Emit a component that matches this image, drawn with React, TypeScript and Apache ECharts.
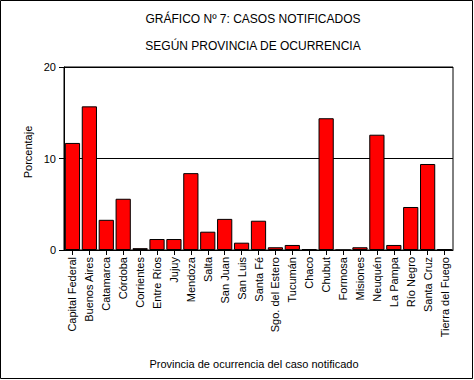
import React, { useEffect, useRef } from "react";
import * as echarts from "echarts";

const categories = [
  "Capital Federal", "Buenos Aires", "Catamarca", "Córdoba", "Corrientes",
  "Entre Ríos", "Jujuy", "Mendoza", "Salta", "San Juan", "San Luis", "Santa Fé",
  "Sgo. del Estero", "Tucumán", "Chaco", "Chubut", "Formosa", "Misiones",
  "Neuquén", "La Pampa", "Río Negro", "Santa Cruz", "Tierra del Fuego",
];
const porcentaje = [
  11.7, 15.7, 3.3, 5.6, 0.2, 1.2, 1.2, 8.4, 2.0, 3.4, 0.8, 3.2,
  0.3, 0.55, 0.1, 14.4, 0, 0.3, 12.6, 0.55, 4.7, 9.4, 0.1,
];
const titleLines = ["GRÁFICO Nº 7: CASOS NOTIFICADOS", "SEGÚN PROVINCIA DE OCURRENCIA"];
const yAxisName = "Porcentaje";
const xAxisName = "Provincia de ocurrencia del caso notificado";

const FONT = "Arial, 'Liberation Sans', sans-serif";

export default function App() {
  const ref = useRef<HTMLDivElement>(null);
  useEffect(() => {
    document.body.style.margin = "0";
    const chart = echarts.init(ref.current!, null, { renderer: "svg" });
    chart.setOption({
      animation: false,
      backgroundColor: "#fff",
      textStyle: { fontFamily: FONT, color: "#000" },
      grid: { left: 64, right: 21, top: 67, bottom: 130, show: true, borderColor: "#000", borderWidth: 1 },
      graphic: [
        { type: "rect", shape: { x: 0.5, y: 0.5, width: 472, height: 378 }, style: { fill: "none", stroke: "#000", lineWidth: 1 }, z: 100 },
        { type: "text", x: 253, y: 19, style: { text: titleLines[0], fontFamily: FONT, fontSize: 12, fill: "#000", textAlign: "center", textVerticalAlign: "middle" } },
        { type: "text", x: 253, y: 46, style: { text: titleLines[1], fontFamily: FONT, fontSize: 12, fill: "#000", textAlign: "center", textVerticalAlign: "middle" } },
        { type: "text", x: 28, y: 152, rotation: Math.PI / 2, style: { text: yAxisName, fontFamily: FONT, fontSize: 11, fill: "#000", textAlign: "center", textVerticalAlign: "middle" } },
        { type: "text", x: 254, y: 364, style: { text: xAxisName, fontFamily: FONT, fontSize: 11, fill: "#000", textAlign: "center", textVerticalAlign: "middle" } },
      ],
      xAxis: {
        type: "category",
        data: categories,
        axisLine: { show: true, lineStyle: { color: "#000", width: 1 } },
        axisTick: { show: true, alignWithLabel: true, length: 5, lineStyle: { color: "#000" } },
        axisLabel: { rotate: 90, interval: 0, margin: 7, fontSize: 11, color: "#000", fontFamily: FONT },
      },
      yAxis: {
        type: "value",
        min: 0,
        max: 20,
        interval: 10,
        axisLine: { show: true, lineStyle: { color: "#000", width: 1 } },
        axisTick: { show: true, length: 5, lineStyle: { color: "#000" } },
        axisLabel: { margin: 8, fontSize: 11, color: "#000", fontFamily: FONT },
        splitLine: { show: true, lineStyle: { color: "#000", width: 1 } },
      },
      series: [
        {
          type: "bar",
          data: porcentaje,
          barCategoryGap: "10%",
          itemStyle: { color: "#ff0000", borderColor: "#000", borderWidth: 1 },
        },
      ],
    });
    return () => chart.dispose();
  }, []);
  return <div ref={ref} style={{ width: 474, height: 380 }} />;
}
